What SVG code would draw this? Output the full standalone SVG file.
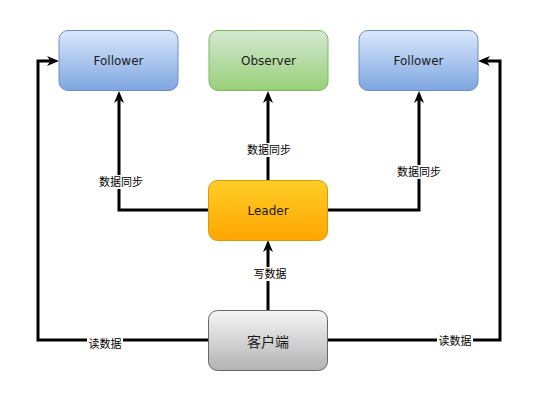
<svg xmlns="http://www.w3.org/2000/svg" width="538" height="401" viewBox="0 0 538 401">
<defs>
<linearGradient id="gBlue" x1="0" y1="0" x2="0" y2="1"><stop offset="0" stop-color="#dae8fc"/><stop offset="1" stop-color="#7ea6e0"/></linearGradient>
<linearGradient id="gGreen" x1="0" y1="0" x2="0" y2="1"><stop offset="0" stop-color="#d5e8d4"/><stop offset="1" stop-color="#97d077"/></linearGradient>
<linearGradient id="gOrange" x1="0" y1="0" x2="0" y2="1"><stop offset="0" stop-color="#ffcd28"/><stop offset="1" stop-color="#ffa500"/></linearGradient>
<linearGradient id="gGray" x1="0" y1="0" x2="0" y2="1"><stop offset="0" stop-color="#f5f5f5"/><stop offset="1" stop-color="#b3b3b3"/></linearGradient>
<marker id="arr" viewBox="0 0 12 10" markerWidth="12" markerHeight="10" refX="3.5" refY="5" orient="auto" markerUnits="userSpaceOnUse">
<path d="M0,0 L12,5 L0,10 L3.5,5 z" fill="#000"/>
</marker>
</defs>
<style>
.node text{font-family:"DejaVu Sans","Liberation Sans",sans-serif;font-size:12px;fill:#1a1a1a;text-anchor:middle;dominant-baseline:central}
.conn path{fill:none;stroke:#000;stroke-width:3}
.lbl rect{fill:#fff}
.lbl text{font-family:"Liberation Sans","Noto Sans CJK SC",sans-serif;font-size:11px;fill:#000;text-anchor:middle;dominant-baseline:central}
</style>
<rect width="538" height="401" fill="#fff"/>
<g id="connectors" class="conn">
<path d="M208,210 H119 V99.5" marker-end="url(#arr)"/>
<path d="M328,210 H419 V99.5" marker-end="url(#arr)"/>
<path d="M268,180 V99.5" marker-end="url(#arr)"/>
<path d="M268,310 V248.5" marker-end="url(#arr)"/>
<path d="M208,340 H38 V61 H50.5" marker-end="url(#arr)"/>
<path d="M328,340 H500 V61 H486.5" marker-end="url(#arr)"/>
</g>
<g id="labels" class="lbl">
<rect x="98" y="175" width="46" height="14"/><text x="121" y="182">数据同步</text>
<rect x="246" y="143" width="46" height="14"/><text x="269" y="150">数据同步</text>
<rect x="396" y="165" width="46" height="14"/><text x="419" y="172">数据同步</text>
<rect x="252" y="267" width="36" height="14"/><text x="270" y="274">写数据</text>
<rect x="87" y="337" width="36" height="14"/><text x="105" y="344">读数据</text>
<rect x="437" y="334" width="36" height="14"/><text x="455" y="341">读数据</text>
</g>
<g id="follower-left" class="node">
<rect x="59" y="30.5" width="119" height="60" rx="9" fill="url(#gBlue)" stroke="#6c8ebf"/>
<text x="118.5" y="60.5">Follower</text>
</g>
<g id="observer" class="node">
<rect x="209" y="30.5" width="119" height="60" rx="9" fill="url(#gGreen)" stroke="#82b366"/>
<text x="268.5" y="60.5">Observer</text>
</g>
<g id="follower-right" class="node">
<rect x="359" y="30.5" width="119" height="60" rx="9" fill="url(#gBlue)" stroke="#6c8ebf"/>
<text x="418.5" y="60.5">Follower</text>
</g>
<g id="leader" class="node">
<rect x="208.5" y="180.5" width="119" height="60" rx="9" fill="url(#gOrange)" stroke="#d79b00"/>
<text x="268" y="210.5">Leader</text>
</g>
<g id="client" class="node">
<rect x="208.5" y="310.5" width="119" height="60" rx="9" fill="url(#gGray)" stroke="#666666"/>
<text x="268" y="340.5" style="font-family:'Noto Sans CJK SC',sans-serif;font-size:14px">客户端</text>
</g>
</svg>
